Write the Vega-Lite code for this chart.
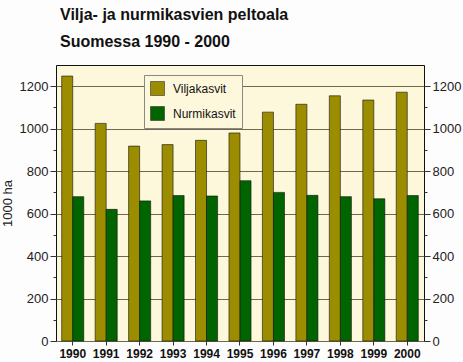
{
  "$schema": "https://vega.github.io/schema/vega-lite/v6.json",
  "autosize": {"type": "none"},
  "width": 368,
  "height": 276,
  "padding": {"left": 56, "top": 65, "right": 39, "bottom": 21},
  "background": "#fdfdfd",
  "title": {
    "text": ["Vilja- ja nurmikasvien peltoala", "Suomessa 1990 - 2000"],
    "anchor": "start",
    "frame": "group",
    "font": "Liberation Sans",
    "fontSize": 16,
    "fontWeight": "bold",
    "color": "#111111",
    "lineHeight": 27,
    "offset": 15,
    "dx": 4
  },
  "data": {
    "values": [
      {"year": "1990", "crop": "Viljakasvit", "value": 1248},
      {"year": "1990", "crop": "Nurmikasvit", "value": 680},
      {"year": "1991", "crop": "Viljakasvit", "value": 1025},
      {"year": "1991", "crop": "Nurmikasvit", "value": 620},
      {"year": "1992", "crop": "Viljakasvit", "value": 918},
      {"year": "1992", "crop": "Nurmikasvit", "value": 660},
      {"year": "1993", "crop": "Viljakasvit", "value": 925},
      {"year": "1993", "crop": "Nurmikasvit", "value": 685},
      {"year": "1994", "crop": "Viljakasvit", "value": 945},
      {"year": "1994", "crop": "Nurmikasvit", "value": 683},
      {"year": "1995", "crop": "Viljakasvit", "value": 980},
      {"year": "1995", "crop": "Nurmikasvit", "value": 755},
      {"year": "1996", "crop": "Viljakasvit", "value": 1078},
      {"year": "1996", "crop": "Nurmikasvit", "value": 700},
      {"year": "1997", "crop": "Viljakasvit", "value": 1115},
      {"year": "1997", "crop": "Nurmikasvit", "value": 686},
      {"year": "1998", "crop": "Viljakasvit", "value": 1155},
      {"year": "1998", "crop": "Nurmikasvit", "value": 680},
      {"year": "1999", "crop": "Viljakasvit", "value": 1135},
      {"year": "1999", "crop": "Nurmikasvit", "value": 670},
      {"year": "2000", "crop": "Viljakasvit", "value": 1172},
      {"year": "2000", "crop": "Nurmikasvit", "value": 685}
    ]
  },
  "config": {
    "view": {"fill": "#fdf8dc", "stroke": "#111111", "strokeWidth": 1},
    "axis": {"labelFont": "Liberation Sans", "titleFont": "Liberation Sans"}
  },
  "layer": [
    {
      "mark": {"type": "bar", "stroke": "#111111", "strokeWidth": 0.6},
      "encoding": {
        "x": {
          "field": "year", "type": "nominal",
          "scale": {"paddingInner": 0.34, "paddingOuter": 0.17},
          "axis": {
            "title": null, "labelAngle": 0, "labelFontSize": 12, "labelFontWeight": "bold",
            "labelColor": "#111111", "tickColor": "#333333", "tickSize": 4, "domain": false,
            "labelPadding": 3
          }
        },
        "xOffset": {"field": "crop", "type": "nominal", "scale": {"domain": ["Viljakasvit", "Nurmikasvit"], "padding": 0}},
        "y": {
          "field": "value", "type": "quantitative",
          "scale": {"domain": [0, 1300], "nice": false},
          "axis": {
            "title": "1000 ha", "titleFontSize": 13, "titleFontWeight": "normal", "titleColor": "#222222",
            "titlePadding": 5, "format": "d",
            "values": [0, 100, 200, 300, 400, 500, 600, 700, 800, 900, 1000, 1100, 1200],
            "labelExpr": "datum.value % 200 === 0 ? datum.label : ''",
            "labelFontSize": 13, "labelColor": "#222222", "labelPadding": 2,
            "domain": false,
            "tickColor": "#333333",
            "tickSize": {"condition": {"test": "datum.value % 200 === 0", "value": 6}, "value": 3},
            "grid": true,
            "gridColor": "#6e6a4a",
            "gridOpacity": {"condition": {"test": "datum.value % 200 === 0", "value": 1}, "value": 0},
            "gridWidth": 1
          }
        },
        "color": {
          "field": "crop", "type": "nominal",
          "scale": {"domain": ["Viljakasvit", "Nurmikasvit"], "range": ["#9c8c00", "#006400"]},
          "legend": {
            "title": null, "orient": "none", "legendX": 88, "legendY": 10,
            "symbolType": "square", "symbolSize": 196, "symbolStrokeColor": "#333333", "symbolStrokeWidth": 0.6,
            "labelFont": "Liberation Sans", "labelFontSize": 12, "labelColor": "#111111",
            "rowPadding": 8, "padding": 6, "labelOffset": 8,
            "fillColor": "#fdf8dc", "strokeColor": "#888888"
          }
        }
      }
    },
    {
      "mark": {"type": "bar", "opacity": 0},
      "encoding": {
        "x": {"field": "year", "type": "nominal"},
        "xOffset": {"field": "crop", "type": "nominal", "scale": {"domain": ["Viljakasvit", "Nurmikasvit"], "padding": 0}},
        "y": {
          "field": "value", "type": "quantitative",
          "scale": {"domain": [0, 1300], "nice": false},
          "axis": {
            "orient": "right", "title": null, "format": "d",
            "values": [0, 100, 200, 300, 400, 500, 600, 700, 800, 900, 1000, 1100, 1200],
            "labelExpr": "datum.value % 200 === 0 ? datum.label : ''",
            "labelFontSize": 13, "labelColor": "#222222", "labelPadding": 2,
            "domain": false, "grid": false, "tickColor": "#333333",
            "tickSize": {"condition": {"test": "datum.value % 200 === 0", "value": 6}, "value": 3}
          }
        }
      }
    }
  ],
  "resolve": {"axis": {"y": "independent"}}
}
